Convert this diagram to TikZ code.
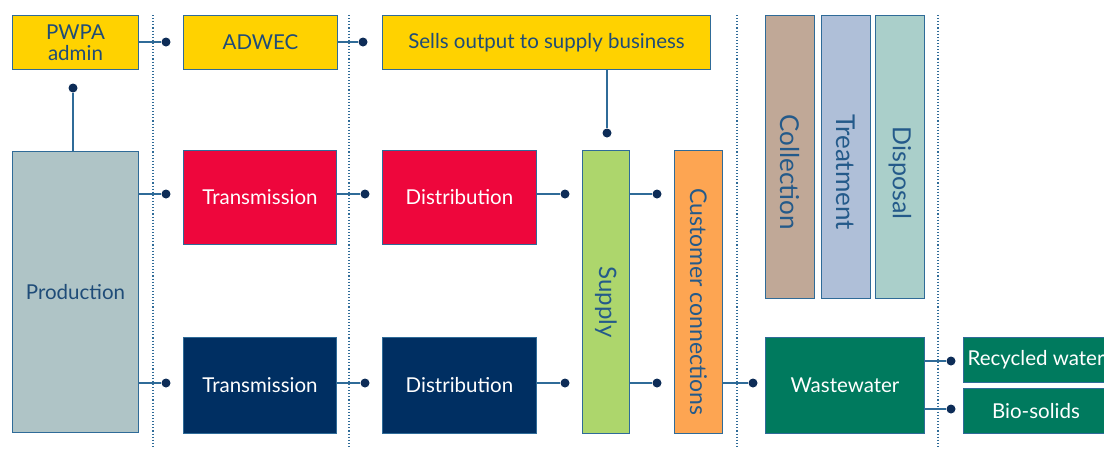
\documentclass[tikz,border=0pt]{standalone}
\usepackage{fontspec}
\setmainfont{Lato}
\begin{document}
\begin{tikzpicture}[x=1pt,y=-1pt,
  bx/.style={draw=edge,line width=1pt,inner sep=0pt,anchor=north west,text=txt,align=center,font=\fontsize{20.5}{20}\selectfont},
  wt/.style={text=white},
  vt/.style={rotate=-90,text=vtxt,font=\fontsize{#1}{20}\selectfont},
  dotn/.style={circle,fill=dotc,inner sep=0pt,minimum size=9pt},
  ln/.style={draw=edge,line width=1.4pt},
  sep/.style={draw=edge,dotted,line width=1.1pt}]
\definecolor{edge}{HTML}{2F6B98}
\definecolor{txt}{HTML}{1F4C78}
\definecolor{vtxt}{HTML}{245A8A}
\definecolor{dotc}{HTML}{0D2C57}
\definecolor{yel}{HTML}{FFD200}
\definecolor{prod}{HTML}{AFC4C6}
\definecolor{red}{HTML}{EE063C}
\definecolor{navy}{HTML}{002F62}
\definecolor{sup}{HTML}{ADD66C}
\definecolor{ora}{HTML}{FDA552}
\definecolor{col}{HTML}{C0A897}
\definecolor{trt}{HTML}{AFBFD8}
\definecolor{dsp}{HTML}{AACFCA}
\definecolor{ww}{HTML}{007A5E}
\useasboundingbox (0,0) rectangle (1104,448);
% separators
\draw[sep] (153,15) -- (153,448);
\draw[sep] (349,15) -- (349,448);
\draw[sep] (737,15) -- (737,448);
\draw[sep] (938,15) -- (938,448);
% top row
\node[bx,fill=yel,minimum width=126pt,minimum height=54pt,font=\fontsize{20.5}{20.5}\selectfont] (pwpa) at (12,15) {PWPA\\admin};
\node[bx,fill=yel,minimum width=154pt,minimum height=54pt] (adwec) at (183,15) {ADWEC};
\node[bx,fill=yel,minimum width=328pt,minimum height=54pt] (sells) at (382,15) {Sells output to supply business};
% production
\node[bx,fill=prod,minimum width=126pt,minimum height=281pt] (prodn) at (12,151) {Production};
\node[bx,fill=red,wt,minimum width=153pt,minimum height=94pt] (t1) at (183,150) {Transmission};
\node[bx,fill=navy,wt,minimum width=153pt,minimum height=96pt] (t2) at (183,337) {Transmission};
\node[bx,fill=red,wt,minimum width=154pt,minimum height=94pt] (d1) at (382,150) {Distribution};
\node[bx,fill=navy,wt,minimum width=154pt,minimum height=96pt] (d2) at (382,337) {Distribution};
\node[bx,fill=sup,minimum width=47pt,minimum height=283pt] (supply) at (582,150) {};
\node[vt=24] at ([yshift=-10pt]supply.center) {Supply};
\node[bx,fill=ora,minimum width=48pt,minimum height=283pt] (cust) at (674,150) {};
\node[vt=23] at ([yshift=-10pt]cust.center) {Customer connections};
\node[bx,fill=col,minimum width=49pt,minimum height=283pt] (coll) at (765,15) {};
\node[vt=26] at ([yshift=-15pt]coll.center) {Collection};
\node[bx,fill=trt,minimum width=49pt,minimum height=283pt] (treat) at (821,15) {};
\node[vt=26] at ([yshift=-15pt]treat.center) {Treatment};
\node[bx,fill=dsp,minimum width=49pt,minimum height=283pt] (disp) at (875,15) {};
\node[vt=25] at ([yshift=-16pt]disp.center) {Disposal};
\node[bx,fill=ww,wt,minimum width=159pt,minimum height=96pt] (waste) at (765,337) {Wastewater};
\node[bx,fill=ww,wt,minimum width=145pt,minimum height=45pt] (recyc) at (963,337) {Recycled water};
\node[bx,fill=ww,wt,minimum width=145pt,minimum height=45pt] (bio) at (963,388) {Bio-solids};
% dots
\node[dotn] (p1) at (166,42) {};
\node[dotn] (p2) at (363,42) {};
\node[dotn] (p3) at (73,88) {};
\node[dotn] (p4) at (607,133) {};
\node[dotn] (a1) at (166,194) {};
\node[dotn] (a2) at (166,383) {};
\node[dotn] (b1) at (365,194) {};
\node[dotn] (b2) at (365,383) {};
\node[dotn] (c1) at (565,194) {};
\node[dotn] (c2) at (565,383) {};
\node[dotn] (e1) at (657,194) {};
\node[dotn] (e2) at (657,383) {};
\node[dotn] (f1) at (753,383) {};
\node[dotn] (g1) at (951,361) {};
\node[dotn] (g2) at (951,409) {};
% connectors
\draw[ln] (pwpa.east |- p1) -- (p1);
\draw[ln] (adwec.east |- p2) -- (p2);
\draw[ln] (p3) -- (p3 |- prodn.north);
\draw[ln] (sells.south -| p4) -- (p4);
\draw[ln] (prodn.east |- a1) -- (a1);
\draw[ln] (prodn.east |- a2) -- (a2);
\draw[ln] (t1.east |- b1) -- (b1);
\draw[ln] (t2.east |- b2) -- (b2);
\draw[ln] (d1.east |- c1) -- (c1);
\draw[ln] (d2.east |- c2) -- (c2);
\draw[ln] (supply.east |- e1) -- (e1);
\draw[ln] (supply.east |- e2) -- (e2);
\draw[ln] (cust.east |- f1) -- (f1);
\draw[ln] (waste.east |- g1) -- (g1);
\draw[ln] (waste.east |- g2) -- (g2);
\end{tikzpicture}
\end{document}
